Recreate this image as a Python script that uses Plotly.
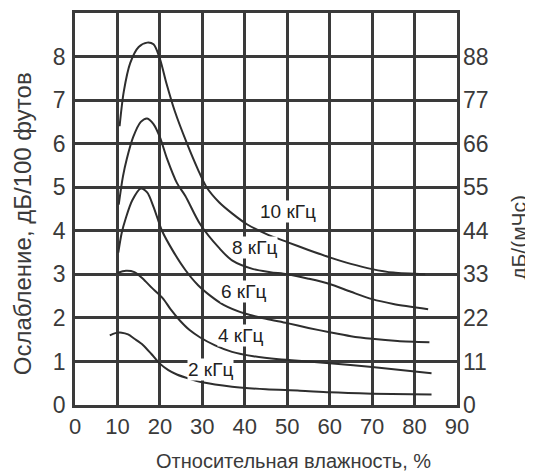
import plotly.graph_objects as go

# ---- data ----
x10 = [10.5, 11.5, 13, 15, 17, 18.5, 20, 21.5, 23.5, 26.4, 29, 31, 34, 37, 40.5, 45, 50, 55, 60, 65, 70, 75, 82.5]
y10 = [6.4, 7.2, 7.85, 8.22, 8.32, 8.28, 7.95, 7.4, 6.75, 6.0, 5.4, 5.0, 4.65, 4.4, 4.15, 3.93, 3.74, 3.56, 3.39, 3.24, 3.12, 3.04, 3.0]

x8 = [10.3, 11.3, 12.2, 13.7, 15.5, 17, 18.5, 20, 21.7, 24, 26, 29.5, 34, 37, 42, 46, 50, 55, 60, 65, 70, 75, 83.2]
y8 = [4.6, 5.25, 5.65, 6.15, 6.5, 6.58, 6.45, 6.15, 5.65, 5.1, 4.8, 4.15, 3.6, 3.32, 3.12, 3.05, 3.0, 2.9, 2.78, 2.6, 2.43, 2.32, 2.2]

x6 = [10.2, 11, 12, 13.5, 15.5, 17, 18.5, 20.5, 23, 26, 29, 32, 35, 40, 45, 50, 55, 60, 65, 70, 76, 83.5]
y6 = [3.5, 3.95, 4.3, 4.7, 4.97, 4.88, 4.55, 4.0, 3.55, 3.1, 2.75, 2.5, 2.3, 2.1, 1.98, 1.88, 1.77, 1.67, 1.58, 1.52, 1.47, 1.44]

x4 = [10, 12, 14, 16, 18, 20.7, 22.5, 24.7, 27, 29.5, 33, 37, 42, 48, 55, 60, 70, 84]
y4 = [3.03, 3.08, 3.05, 2.9, 2.7, 2.45, 2.2, 1.94, 1.72, 1.55, 1.37, 1.22, 1.12, 1.05, 1.0, 0.96, 0.87, 0.73]

x2 = [8.2, 9.5, 11, 12.5, 14, 16, 18, 20, 22, 24, 27, 30, 37, 45, 53, 60, 70, 84]
y2 = [1.6, 1.65, 1.66, 1.62, 1.52, 1.38, 1.17, 0.95, 0.8, 0.7, 0.6, 0.52, 0.42, 0.36, 0.33, 0.29, 0.26, 0.24]

series = [(x10, y10), (x8, y8), (x6, y6), (x4, y4), (x2, y2)]

label_text = ["10 кГц", "8 кГц", "6 кГц", "4 кГц", "2 кГц"]
label_x = [50.2, 42.4, 39.8, 39.1, 32.0]
label_y = [4.44, 3.62, 2.6, 1.59, 0.82]

x_ticks = [0, 10, 20, 30, 40, 50, 60, 70, 80, 90]
y_left_ticks = [0, 1, 2, 3, 4, 5, 6, 7, 8]
y_right_ticks = [0, 11, 22, 33, 44, 55, 66, 77, 88]

INK = "#3a3a3a"
FONT = "Liberation Sans, Arial, sans-serif"

fig = go.Figure()
for xs, ys in series:
    fig.add_trace(go.Scatter(x=xs, y=ys, mode="lines",
                             line=dict(color="#2e2e2e", width=2, shape="spline", smoothing=0.8),
                             showlegend=False, hoverinfo="skip"))

# dummy trace for right axis
fig.add_trace(go.Scatter(x=[None], y=[None], yaxis="y2", showlegend=False))

for t, lx, ly in zip(label_text, label_x, label_y):
    fig.add_annotation(x=lx, y=ly, text=t, showarrow=False,
                       font=dict(family=FONT, size=19, color="#222222"),
                       bgcolor="white", borderpad=0)

axis_common = dict(showline=True, linecolor="#3a3a3a", linewidth=2.5, mirror=True,
                   showgrid=True, gridcolor="#3a3a3a", gridwidth=2.5, zeroline=False,
                   ticks="")

fig.update_layout(
    width=525, height=465,
    margin=dict(l=67, r=76, t=2, b=68),
    paper_bgcolor="white", plot_bgcolor="white",
    xaxis=dict(range=[0, 90], tickvals=x_ticks, ticklabelstandoff=0,
               tickfont=dict(family=FONT, size=22, color=INK), **axis_common),
    yaxis=dict(range=[0, 9], tickvals=y_left_ticks + [9], ticktext=[str(v) for v in y_left_ticks] + [""],
               ticklabelstandoff=2, tickfont=dict(family=FONT, size=23, color=INK), **axis_common),
    yaxis2=dict(range=[0, 99], tickvals=y_right_ticks, overlaying="y", side="right",
                showgrid=False, zeroline=False, showline=False, ticks="",
                ticklabelstandoff=5,
                tickfont=dict(family=FONT, size=23, color=INK)),
    annotations=list(fig.layout.annotations) + [
        dict(text="Ослабление, дБ/100 футов", xref="paper", yref="paper",
             x=-0.137, y=0.463, textangle=-90, showarrow=False,
             xanchor="center", yanchor="middle",
             font=dict(family=FONT, size=24, color=INK)),
        dict(text="дБ/(мЧс)", xref="paper", yref="paper",
             x=1.162, y=0.429, textangle=-90, showarrow=False,
             xanchor="center", yanchor="middle",
             font=dict(family=FONT, size=21, color=INK)),
        dict(text="Относительная влажность, %", xref="paper", yref="paper",
             x=0.571, y=-0.142, showarrow=False,
             xanchor="center", yanchor="middle",
             font=dict(family=FONT, size=20, color=INK)),
    ],
)

fig.write_html("out.html")
